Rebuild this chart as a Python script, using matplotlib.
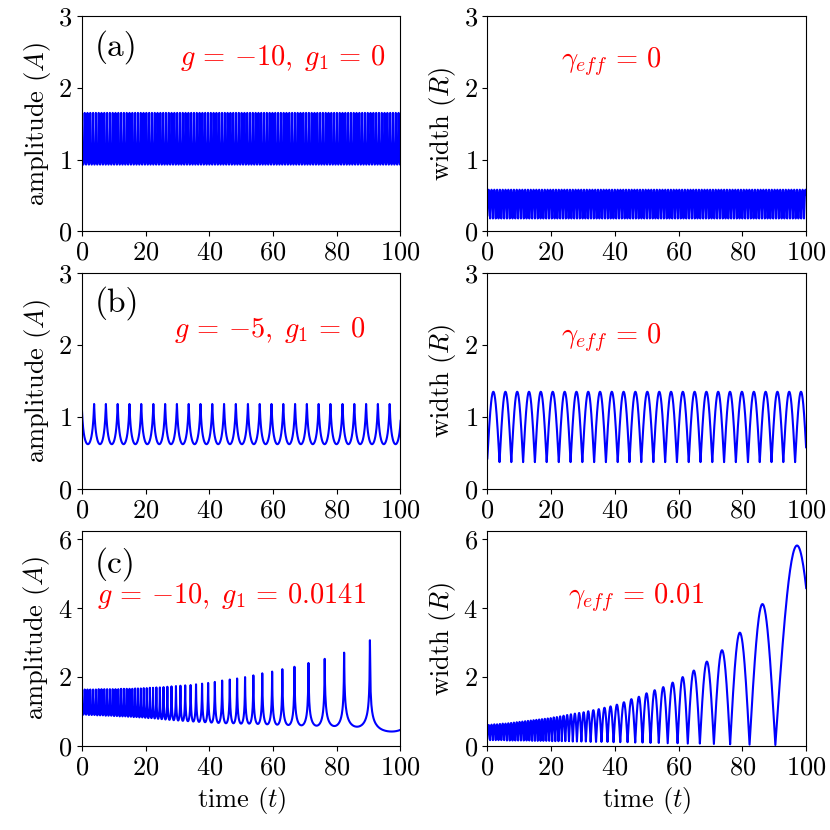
import numpy as np
import matplotlib
matplotlib.use('Agg')
import matplotlib.pyplot as plt

plt.rcParams['font.family'] = 'serif'
plt.rcParams['font.serif'] = ['cmr10']
plt.rcParams['mathtext.fontset'] = 'cm'
plt.rcParams['axes.unicode_minus'] = False
plt.rcParams['axes.formatter.use_mathtext'] = True

# --- values ---
# (a) g=-10, g1=0 : steady fast oscillation
a_period = 0.88
a_first = -0.04
a_amp_peak, a_amp_trough = 1.65, 0.93
a_wid_trough, a_wid_peak = 0.18, 0.58

# (b) g=-5, g1=0 : times of amplitude peaks (= width minima)
b_times = [-0.1, 3.8, 7.5, 11.2, 14.9, 18.6, 22.4, 26.1, 29.8, 33.5, 37.2,
           40.9, 44.6, 48.3, 52.1, 55.8, 59.5, 63.2, 66.9, 70.6, 74.3, 78.0,
           81.8, 85.5, 89.2, 92.9, 96.6, 100.3]
b_amp_peak, b_amp_trough = 1.18, 0.62
b_wid_trough, b_wid_peak = 0.37, 1.35

# (c) g=-10, g1=0.0141 : growing oscillation
c_times = [-0.04, 0.84, 1.72, 2.60, 3.48, 4.36, 5.24, 6.12, 7.00, 7.88, 8.76,
           9.64, 10.52, 11.40, 12.28, 13.16, 14.04, 14.92, 15.80, 16.68, 17.57,
           18.47, 19.39, 20.33, 21.30, 22.30, 23.35, 24.45, 25.60, 26.80, 28.10,
           29.50, 30.90, 32.40, 34.10, 35.80, 37.70, 39.60, 41.70, 44.00, 46.40,
           48.70, 51.20, 53.80, 56.60, 59.70, 62.90, 66.70, 71.10, 76.20, 82.30,
           90.40, 104.0]
c_amp_peaks = [1.64,
               1.64, 1.64, 1.64, 1.64, 1.64, 1.65, 1.65, 1.65, 1.65, 1.65, 1.65,
               1.65, 1.65, 1.66, 1.66, 1.66, 1.66, 1.66, 1.67,
               1.67, 1.67, 1.68, 1.68, 1.69, 1.69, 1.70, 1.70,
               1.71, 1.72, 1.73, 1.74, 1.75, 1.76, 1.77, 1.79, 1.81, 1.83, 1.86, 1.90,
               1.93, 1.96, 2.00, 2.05, 2.11, 2.16, 2.23, 2.30, 2.41, 2.53, 2.71, 3.07,
               3.50]
c_amp_troughs = [0.91, 0.91, 0.90, 0.90, 0.90, 0.89, 0.89, 0.89, 0.88, 0.88, 0.88, 0.87,
                 0.87, 0.86, 0.86, 0.86, 0.85, 0.85, 0.84, 0.84,
                 0.83, 0.83, 0.82, 0.81, 0.81, 0.80, 0.79, 0.78,
                 0.77, 0.76, 0.75, 0.74, 0.73, 0.72, 0.71, 0.70, 0.69, 0.68, 0.67, 0.66,
                 0.66, 0.65, 0.65, 0.64, 0.63, 0.62, 0.61, 0.60, 0.59, 0.58, 0.56, 0.42]
c_wid_troughs = [0.17,
                 0.17, 0.17, 0.17, 0.17, 0.17, 0.17, 0.16, 0.16, 0.16, 0.16, 0.16,
                 0.16, 0.16, 0.16, 0.16, 0.15, 0.15, 0.15, 0.15,
                 0.15, 0.15, 0.15, 0.14, 0.14, 0.14, 0.14, 0.14,
                 0.14, 0.13, 0.13, 0.13, 0.13, 0.12, 0.12, 0.12, 0.12, 0.11, 0.11, 0.11,
                 0.10, 0.10, 0.09, 0.09, 0.08, 0.08, 0.07, 0.07, 0.06, 0.05, 0.04, 0.03,
                 0.03]
c_wid_peaks = [0.61, 0.62, 0.63, 0.63, 0.64, 0.65, 0.65, 0.66, 0.67, 0.68, 0.69, 0.70,
               0.71, 0.72, 0.73, 0.74, 0.75, 0.76, 0.77, 0.78,
               0.79, 0.80, 0.81, 0.83, 0.84, 0.86, 0.88, 0.90,
               0.92, 0.94, 0.96, 0.98, 1.01, 1.04, 1.07, 1.11, 1.15, 1.20, 1.27, 1.36,
               1.43, 1.53, 1.62, 1.71, 1.84, 2.00, 2.19, 2.45, 2.78, 3.29, 4.12, 5.82]

panel_labels = ['(a)', '(b)', '(c)']
left_notes = [r'$g\,=\,{-10},\; g_1\,=\,0$', r'$g\,=\,{-5},\; g_1\,=\,0$',
              r'$g\,=\,{-10},\; g_1\,=\,0.0141$']
right_notes = [r'$\gamma_{eff}\,=\,0$', r'$\gamma_{eff}\,=\,0$',
               r'$\gamma_{eff}\,=\,0.01$']
ylims = [3, 3, 6.25]
yticks = [[0, 1, 2, 3], [0, 1, 2, 3], [0, 2, 4, 6]]


def trace(times, sharp, smooth, kind, n=60):
    # join the extrema: sharp ones at the event times, smooth ones in between
    tt, yy = [], []
    for i in range(len(times) - 1):
        s = np.linspace(0, 1, n)
        v = np.where(s < 0.5, sharp[i], sharp[i + 1])
        m = smooth[i]
        if kind == 'width':
            y = v + (m - v) * np.sin(np.pi * s)
        else:
            r = (m / v) ** 2
            y = v * np.sqrt(r / (r + (1 - r) * np.sin(np.pi * s)))
        tt.append(times[i] + s * (times[i + 1] - times[i]))
        yy.append(y)
    return np.concatenate(tt), np.concatenate(yy)


a_times = np.arange(a_first, 101, a_period)
na = len(a_times)
b_n = len(b_times)

curves = [
    (trace(a_times, [a_amp_peak] * na, [a_amp_trough] * na, 'amp'),
     trace(a_times, [a_wid_trough] * na, [a_wid_peak] * na, 'width')),
    (trace(b_times, [b_amp_peak] * b_n, [b_amp_trough] * b_n, 'amp'),
     trace(b_times, [b_wid_trough] * b_n, [b_wid_peak] * b_n, 'width')),
    (trace(c_times, c_amp_peaks, c_amp_troughs, 'amp'),
     trace(c_times, c_wid_troughs, c_wid_peaks, 'width')),
]

fig, axes = plt.subplots(3, 2, figsize=(8.3, 8.3), dpi=100)
fig.subplots_adjust(left=0.0988, right=0.971, top=0.9807, bottom=0.1012,
                    wspace=0.273, hspace=0.195)

left_xy = [(0.63, 0.806), (0.59, 0.736), (0.47, 0.696)]
right_xy = [(0.39, 0.787), (0.39, 0.70), (0.467, 0.69)]
label_y = [0.857, 0.86, 0.846]

for row in range(3):
    (ta, ya), (tw, yw) = curves[row]
    ax1, ax2 = axes[row]
    ax1.plot(ta, ya, color='b', lw=1.5)
    ax2.plot(tw, yw, color='b', lw=1.5)
    for ax in (ax1, ax2):
        ax.set_xlim(0, 100)
        ax.set_ylim(0, ylims[row])
        ax.set_xticks([0, 20, 40, 60, 80, 100])
        ax.set_yticks(yticks[row])
        ax.tick_params(labelsize=19)
    ax1.set_ylabel(r'amplitude ($A$)', fontsize=19)
    ax2.set_ylabel(r'width ($R$)', fontsize=19)
    ax1.text(0.04, label_y[row], panel_labels[row], transform=ax1.transAxes,
             fontsize=24, va='center')
    ax1.text(*left_xy[row], left_notes[row], transform=ax1.transAxes,
             fontsize=20.5, color='r', ha='center', va='center')
    ax2.text(*right_xy[row], right_notes[row], transform=ax2.transAxes,
             fontsize=20.5, color='r', ha='center', va='center')

axes[2, 0].set_xlabel(r'time ($t$)', fontsize=19)
axes[2, 1].set_xlabel(r'time ($t$)', fontsize=19)

fig.savefig('out.png', dpi=100)
